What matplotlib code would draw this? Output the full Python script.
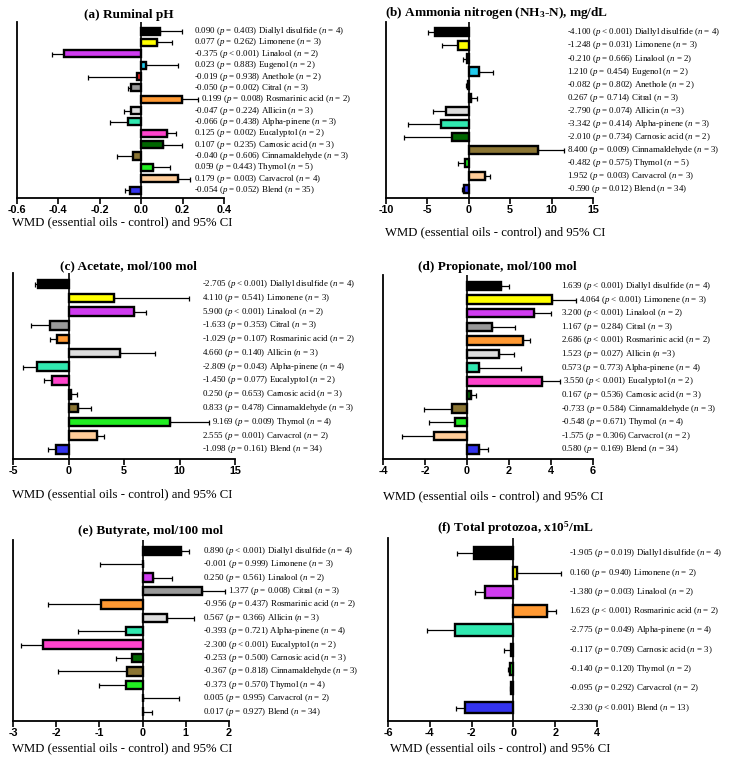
import matplotlib
matplotlib.use("Agg")
import matplotlib.pyplot as plt
import matplotlib.transforms as mtransforms

plt.rcParams['font.family'] = ['Liberation Serif', 'DejaVu Serif']
plt.rcParams['mathtext.fontset'] = 'custom'
plt.rcParams['mathtext.it'] = 'Liberation Serif:italic'
plt.rcParams['mathtext.rm'] = 'Liberation Serif'
plt.rcParams['mathtext.default'] = 'regular'

# colours per essential oil
colors = {
    "Diallyl disulfide": "#000000",
    "Limonene": "#FFFF00",
    "Linalool": "#D03CF0",
    "Eugenol": "#22CCEE",
    "Anethole": "#EE2222",
    "Citral": "#999999",
    "Rosmarinic acid": "#FF9933",
    "Allicin": "#DDDDDD",
    "Alpha-pinene": "#30E8B0",
    "Eucalyptol": "#FF44CC",
    "Carnosic acid": "#006600",
    "Cinnamaldehyde": "#8B7533",
    "Thymol": "#22EE22",
    "Carvacrol": "#FFCC99",
    "Blend": "#3333EE",
}

# (a) Ruminal pH
names_a = ["Diallyl disulfide", "Limonene", "Linalool", "Eugenol", "Anethole", "Citral",
           "Rosmarinic acid", "Allicin", "Alpha-pinene", "Eucalyptol", "Carnosic acid",
           "Cinnamaldehyde", "Thymol", "Carvacrol", "Blend"]
wmd_a = [0.090, 0.077, -0.375, 0.023, -0.019, -0.050, 0.199, -0.047, -0.066, 0.125, 0.107,
         -0.040, 0.059, 0.179, -0.054]
ci_a = [0.197, 0.147, -0.429, 0.179, -0.258, -0.064, 0.275, -0.082, -0.149, 0.166, 0.197,
        -0.117, 0.141, 0.238, -0.080]
p_a = ["= 0.403", "= 0.262", "< 0.001", "= 0.883", "= 0.938", "= 0.002", "= 0.008", "= 0.224",
       "= 0.438", "= 0.002", "= 0.235", "= 0.606", "= 0.443", "= 0.003", "= 0.052"]
n_a = ["= 4", "= 3", "= 2", "= 2", "= 2", "= 3", "= 2", "= 3", "= 3", "= 2", "= 3", "= 3",
       "= 5", "= 4", "= 35"]

# (b) Ammonia nitrogen
names_b = ["Diallyl disulfide", "Limonene", "Linalool", "Eugenol", "Anethole", "Citral",
           "Allicin", "Alpha-pinene", "Carnosic acid", "Cinnamaldehyde", "Thymol",
           "Carvacrol", "Blend"]
wmd_b = [-4.100, -1.248, -0.210, 1.210, -0.082, 0.267, -2.790, -3.342, -2.010, 8.400, -0.482,
         1.952, -0.590]
ci_b = [-4.88, -3.2, -0.68, 2.88, -0.36, 1.0, -4.28, -7.4, -7.8, 11.52, -1.28, 2.6, -0.8]
p_b = ["< 0.001", "= 0.031", "= 0.666", "= 0.454", "= 0.802", "= 0.714", "= 0.074", "= 0.414",
       "= 0.734", "= 0.009", "= 0.575", "= 0.003", "= 0.012"]
n_b = ["= 4", "= 3", "= 2", "= 2", "= 2", "= 3", "=3", "= 3", "= 2", "= 3", "= 5", "= 3", "= 34"]

# (c) Acetate
names_c = ["Diallyl disulfide", "Limonene", "Linalool", "Citral", "Rosmarinic acid", "Allicin",
           "Alpha-pinene", "Eucalyptol", "Carnosic acid", "Cinnamaldehyde", "Thymol",
           "Carvacrol", "Blend"]
wmd_c = [-2.705, 4.110, 5.900, -1.633, -1.029, 4.660, -2.809, -1.450, 0.250, 0.833, 9.169,
         2.555, -1.098]
ci_c = [-3.0, 10.87, 6.98, -3.38, -1.65, 7.78, -4.1, -2.25, 0.81, 2.0, 12.63, 3.23, -1.86]
p_c = ["< 0.001", "= 0.541", "< 0.001", "= 0.353", "= 0.107", "= 0.140", "= 0.043", "= 0.077",
       "= 0.653", "= 0.478", "= 0.009", "= 0.001", "= 0.161"]
n_c = ["= 4", "= 3", "= 2", "= 3", "= 2", "= 3", "= 4", "= 2", "= 3", "= 3", "= 4", "= 2", "= 34"]

# (d) Propionate
names_d = names_c
wmd_d = [1.639, 4.064, 3.200, 1.167, 2.686, 1.523, 0.573, 3.550, 0.167, -0.733, -0.548,
         -1.575, 0.580]
ci_d = [1.98, 5.2, 4.02, 2.3, 3.02, 2.24, 2.57, 4.43, 0.41, -2.06, -1.83, -3.1, 1.0]
p_d = ["< 0.001", "< 0.001", "< 0.001", "= 0.284", "< 0.001", "= 0.027", "= 0.773", "< 0.001",
       "= 0.536", "= 0.584", "= 0.671", "= 0.306", "= 0.169"]
n_d = ["= 4", "= 3", "= 2", "= 3", "= 2", "=3", "= 4", "= 2", "= 3", "= 3", "= 4", "= 2", "= 34"]

# (e) Butyrate
names_e = names_c
wmd_e = [0.890, -0.001, 0.250, 1.377, -0.956, 0.567, -0.393, -2.300, -0.253, -0.367, -0.373,
         0.005, 0.017]
ci_e = [1.085, -0.99, 0.69, 1.9, -2.19, 1.19, -1.49, -2.81, -0.62, -1.96, -1.02, 0.845, 0.22]
p_e = ["< 0.001", "= 0.999", "= 0.561", "= 0.008", "= 0.437", "= 0.366", "= 0.721", "< 0.001",
       "= 0.500", "= 0.818", "= 0.570", "= 0.995", "= 0.927"]
n_e = ["= 4", "= 3", "= 2", "= 3", "= 2", "= 3", "= 4", "= 2", "= 3", "= 3", "= 4", "= 2", "= 34"]

# (f) Total protozoa
names_f = ["Diallyl disulfide", "Limonene", "Linalool", "Rosmarinic acid", "Alpha-pinene",
           "Carnosic acid", "Thymol", "Carvacrol", "Blend"]
wmd_f = [-1.905, 0.160, -1.380, 1.623, -2.775, -0.117, -0.140, -0.095, -2.330]
ci_f = [-2.71, 2.29, -1.83, 2.05, -4.14, -0.44, -0.25, -0.17, -2.76]
p_f = ["= 0.019", "= 0.940", "= 0.003", "< 0.001", "= 0.049", "= 0.709", "= 0.120", "= 0.292",
       "< 0.001"]
n_f = ["= 4", "= 2", "= 2", "= 2", "= 4", "= 3", "= 2", "= 2", "= 13"]

W, H = 735, 769
fig = plt.figure(figsize=(W / 100, H / 100), dpi=100)

# panel layout in pixels: axis box, x range, ticks, title, label positions
panels = [
    dict(data=(names_a, wmd_a, ci_a, p_a, n_a), box=(17, 224, 22, 198), xlim=(-0.6, 0.4),
         ticks=[-0.6, -0.4, -0.2, 0.0, 0.2, 0.4], fmt="{:.1f}", title="(a) Ruminal pH",
         title_xy=(129, 15), text_x=194, xlabel_xy=(12, 222)),
    dict(data=(names_b, wmd_b, ci_b, p_b, n_b), box=(386, 593, 22, 198), xlim=(-10, 15),
         ticks=[-10, -5, 0, 5, 10, 15], fmt="{:.0f}",
         title="(b) Ammonia nitrogen (NH$_3$-N), mg/dL",
         title_xy=(497, 13), text_x=567, xlabel_xy=(385, 232)),
    dict(data=(names_c, wmd_c, ci_c, p_c, n_c), box=(13, 235, 273, 459), xlim=(-5, 15),
         ticks=[-5, 0, 5, 10, 15], fmt="{:.0f}", title="(c) Acetate, mol/100 mol",
         title_xy=(128, 266), text_x=202, xlabel_xy=(12, 494)),
    dict(data=(names_d, wmd_d, ci_d, p_d, n_d), box=(383, 593, 275, 459), xlim=(-4, 6),
         ticks=[-4, -2, 0, 2, 4, 6], fmt="{:.0f}", title="(d) Propionate, mol/100 mol",
         title_xy=(497, 267), text_x=561, xlabel_xy=(383, 496)),
    dict(data=(names_e, wmd_e, ci_e, p_e, n_e), box=(13, 229, 540, 721), xlim=(-3, 2),
         ticks=[-3, -2, -1, 0, 1, 2], fmt="{:.0f}", title="(e) Butyrate, mol/100 mol",
         title_xy=(150, 531), text_x=203, xlabel_xy=(12, 748)),
    dict(data=(names_f, wmd_f, ci_f, p_f, n_f), box=(388, 597, 538, 721), xlim=(-6, 4),
         ticks=[-6, -4, -2, 0, 2, 4], fmt="{:.0f}", title="(f) Total protozoa, x10$^5$/mL",
         title_xy=(515, 528), text_x=569, xlabel_xy=(390, 748)),
]

for pn in panels:
    names, wmd, ci, pv, nv = pn["data"]
    l, r, t, b = pn["box"]
    ax = fig.add_axes([l / W, 1 - b / H, (r - l) / W, (b - t) / H])
    y = list(range(len(names)))
    lo = [max(0.0, v - c) for v, c in zip(wmd, ci)]
    hi = [max(0.0, c - v) for v, c in zip(wmd, ci)]
    ax.errorbar(wmd, y, xerr=[lo, hi], fmt="none", ecolor="black", elinewidth=0.9,
                capsize=1.8, capthick=0.9, zorder=2)
    ax.barh(y, wmd, height=0.62, color=[colors[nm] for nm in names], edgecolor="black",
            linewidth=1.7, zorder=3)
    ax.axvline(0, color="black", lw=1.2, zorder=4)
    ax.set_xlim(*pn["xlim"])
    ax.set_ylim(len(names) - 1 + 0.7, -0.8)
    ax.set_yticks([])
    ax.set_xticks(pn["ticks"])
    ax.set_xticklabels([pn["fmt"].format(tk) for tk in pn["ticks"]],
                       fontfamily="Liberation Sans", fontweight="bold", fontsize=7.8)
    ax.tick_params(axis="x", direction="out", length=4, width=1.2, pad=0.8)
    for s in ["top", "right"]:
        ax.spines[s].set_visible(False)
    for s in ["left", "bottom"]:
        ax.spines[s].set_linewidth(1.3)
    tr = mtransforms.blended_transform_factory(fig.transFigure, ax.transData)
    for i, nm in enumerate(names):
        label = f"{wmd[i]:.3f} ($\\mathit{{p}}$ {pv[i]}) {nm} ($\\mathit{{n}}$ {nv[i]})"
        # keep the label clear of a long error bar
        cap_px = ax.transData.transform((max(ci[i], wmd[i]), 0))[0]
        x_px = max(pn["text_x"], cap_px + 3)
        ax.text(x_px / W, i, label, transform=tr, fontsize=6.4, va="center",
                ha="left", clip_on=False)
    tx, ty = pn["title_xy"]
    fig.text(tx / W, 1 - ty / H, pn["title"], fontsize=9.5, fontweight="bold",
             ha="center", va="center")
    lx, ly = pn["xlabel_xy"]
    fig.text(lx / W, 1 - ly / H, "WMD (essential oils - control) and 95% CI", fontsize=9.2,
             ha="left", va="center")

fig.savefig("out.png", dpi=100)
